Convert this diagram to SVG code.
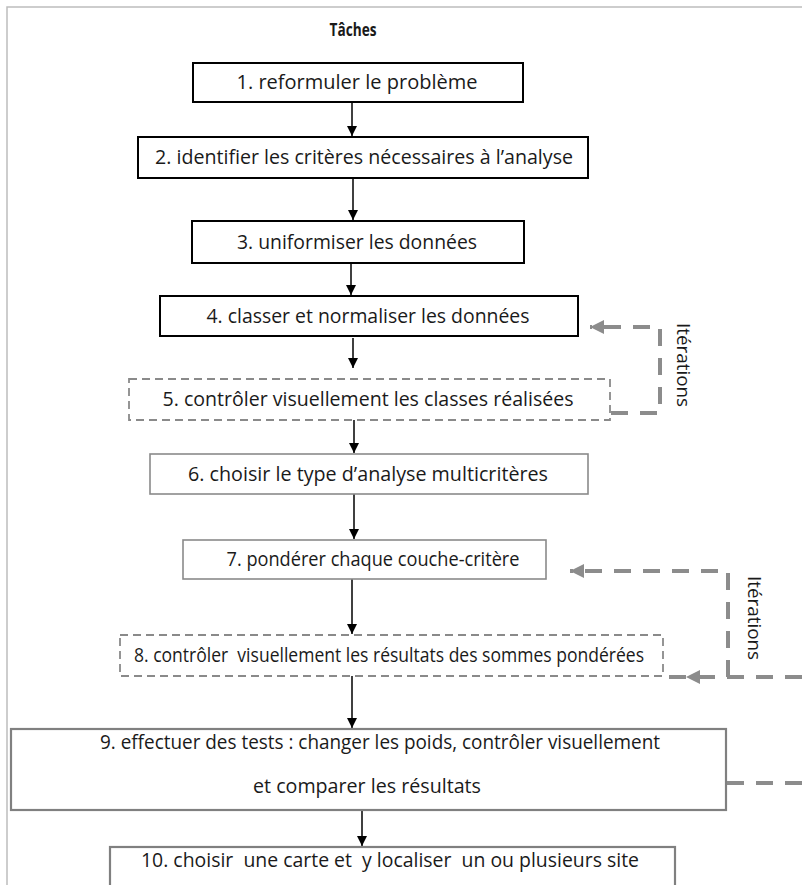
<svg xmlns="http://www.w3.org/2000/svg" width="802" height="885" viewBox="0 0 802 885">
<style>
text{font-family:"Open Sans","Liberation Sans",sans-serif;font-size:19.5px;fill:#1a1a1a}
.title{font-weight:bold;font-size:17px}
.bk{fill:#fff;stroke:#000;stroke-width:2}
.gr{fill:#fff;stroke:#8a8a8a;stroke-width:1.6}
.gr2{fill:#fff;stroke:#808080;stroke-width:2.2}
.dsh{fill:#fff;stroke:#8a8a8a;stroke-width:1.8;stroke-dasharray:8 5}
.arr{stroke:#000;stroke-width:1.5;fill:none;marker-end:url(#ab)}
.loop{stroke:#8c8c8c;stroke-width:4;fill:none;stroke-dasharray:17 12}
.iter{font-size:19px}
</style>
<defs>
<marker id="ab" markerUnits="userSpaceOnUse" markerWidth="10" markerHeight="12" refX="10" refY="5" orient="auto" viewBox="0 0 10 10">
<path d="M0,0 L10,5 L0,10 z" fill="#000"/>
</marker>
<marker id="ag" markerUnits="userSpaceOnUse" markerWidth="14" markerHeight="14" refX="12" refY="6" orient="auto" viewBox="0 0 12 12">
<path d="M0,0 L12,6 L0,12 z" fill="#8c8c8c"/>
</marker>
</defs>
<rect width="802" height="885" fill="#fff"/>
<path d="M7,885 V7 H802" fill="none" stroke="#bdbdbd" stroke-width="1.5"/>
<text class="title" x="353" y="36" text-anchor="middle" textLength="47" lengthAdjust="spacingAndGlyphs">Tâches</text>

<g id="connectors">
<path class="arr" d="M352,102 V136"/>
<path class="arr" d="M353,178 V220"/>
<path class="arr" d="M351,263 V295"/>
<path class="arr" d="M353,338 V368"/>
<path class="arr" d="M354,420 V453"/>
<path class="arr" d="M354,494 V539"/>
<path class="arr" d="M352,579 V634"/>
<path class="arr" d="M352,676 V728"/>
<path class="arr" d="M362,810 V846"/>
<path class="loop" d="M611,413 H660 V327 H590" style="marker-end:url(#ag)"/>
<path class="loop" d="M728,677 V571 H570" style="marker-end:url(#ag)"/>
<path class="loop" d="M802,677 H664"/>
<polygon points="686,677 700,670 700,684" fill="#8c8c8c"/>
<path class="loop" d="M727,783 H802"/>
<text class="iter" transform="translate(677,365) rotate(90)" text-anchor="middle" textLength="84" lengthAdjust="spacingAndGlyphs">Itérations</text>
<text class="iter" transform="translate(748,618) rotate(90)" text-anchor="middle" textLength="84" lengthAdjust="spacingAndGlyphs">Itérations</text>
</g>

<g id="n1"><rect class="bk" x="193" y="63" width="330" height="39"/>
<text x="357" y="89" text-anchor="middle" textLength="241" lengthAdjust="spacingAndGlyphs">1. reformuler le problème</text></g>
<g id="n2"><rect class="bk" x="138" y="137" width="450" height="41"/>
<text x="364" y="164" text-anchor="middle" textLength="418" lengthAdjust="spacingAndGlyphs">2. identifier les critères nécessaires à l’analyse</text></g>
<g id="n3"><rect class="bk" x="192" y="221" width="332" height="42"/>
<text x="357" y="249" text-anchor="middle" textLength="240" lengthAdjust="spacingAndGlyphs">3. uniformiser les données</text></g>
<g id="n4"><rect class="bk" x="160" y="296" width="418" height="40"/>
<text x="368" y="323" text-anchor="middle" textLength="323" lengthAdjust="spacingAndGlyphs">4. classer et normaliser les données</text></g>
<g id="n5"><rect class="dsh" x="129" y="379" width="481" height="41"/>
<text x="368" y="406" text-anchor="middle" textLength="411" lengthAdjust="spacingAndGlyphs">5. contrôler visuellement les classes réalisées</text></g>
<g id="n6"><rect class="gr" x="150" y="454" width="438" height="40"/>
<text x="368" y="481" text-anchor="middle" textLength="360" lengthAdjust="spacingAndGlyphs">6. choisir le type d’analyse multicritères</text></g>
<g id="n7"><rect class="gr" x="183" y="540" width="363" height="39"/>
<text x="373" y="566" text-anchor="middle" textLength="293" lengthAdjust="spacingAndGlyphs">7. pondérer chaque couche-critère</text></g>
<g id="n8"><rect class="dsh" x="120" y="635" width="543" height="41"/>
<text x="389" y="662" text-anchor="middle" textLength="510" lengthAdjust="spacingAndGlyphs" xml:space="preserve">8. contrôler  visuellement les résultats des sommes pondérées</text></g>
<g id="n9"><rect class="gr2" x="11" y="729" width="715" height="81"/>
<text x="380" y="749" text-anchor="middle" textLength="560" lengthAdjust="spacingAndGlyphs">9. effectuer des tests : changer les poids, contrôler visuellement</text>
<text x="367" y="793" text-anchor="middle" textLength="228" lengthAdjust="spacingAndGlyphs">et comparer les résultats</text></g>
<g id="n10"><rect class="gr2" x="110" y="847" width="565" height="48"/>
<text x="390" y="867" text-anchor="middle" textLength="498" lengthAdjust="spacingAndGlyphs" xml:space="preserve">10. choisir  une carte et  y localiser  un ou plusieurs site</text></g>
</svg>
